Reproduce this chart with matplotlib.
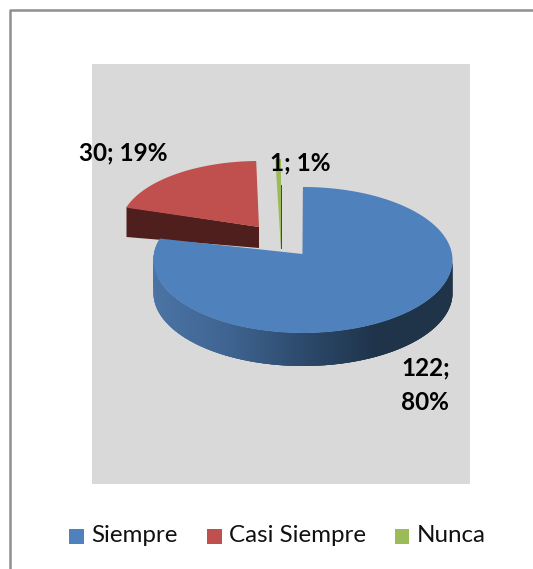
import numpy as np
import matplotlib
matplotlib.use("Agg")
import matplotlib.pyplot as plt
from matplotlib.colors import LinearSegmentedColormap

categories = ["Siempre", "Casi Siempre", "Nunca"]
values = [122, 30, 1]
percents = [80, 19, 1]


def arc(cx, cy, rx, ry, start, end, n=120):
    # angles in degrees, clockwise from 12 o'clock
    t = np.radians(np.linspace(start, end, n))
    return cx + rx * np.sin(t), cy - ry * np.cos(t)


def face(ax, apex, cx, cy, rx, ry, start, end, color, z):
    xs, ys = arc(cx, cy, rx, ry, start, end)
    ax.fill(np.r_[apex[0], xs], np.r_[apex[1], ys], color=color, lw=0, zorder=z)


def main():
    plt.rcParams["font.family"] = ["Lato", "DejaVu Sans"]
    fig = plt.figure(figsize=(5.33, 5.69), dpi=100)
    ax = fig.add_axes([0, 0, 1, 1])
    ax.set_xlim(0, 533)
    ax.set_ylim(569, 0)
    ax.axis("off")

    # chart frame (only top and left are in the crop) and grey plot area
    ax.plot([9.5, 9.5, 533], [569, 9.5, 9.5], color="#8f8f8f", lw=1.8, zorder=1)
    ax.fill([92, 470, 470, 92], [64, 64, 484, 484], color="#d9d9d9", lw=0, zorder=1)

    angles = np.cumsum([0] + values) / sum(values) * 360

    # red slice, pulled out
    ax.fill([259, 259, 126.5, 126.5], [227, 248, 237, 207], color="#4f1f1e", lw=0, zorder=2)
    face(ax, (259, 227), 259, 227, 139, 66, angles[1], angles[2] + 1.2, "#c0504d", 3)

    # green slice, very thin
    ax.fill([280, 281.5, 281.5, 280.5], [185, 185, 249, 249], color="#3f5224", lw=0, zorder=2)
    face(ax, (281, 249), 281, 233, 139, 74, angles[2], angles[3], "#9bbb59", 3)

    # blue slice: side wall with a gradient, then top face
    cx, cy, rx, ry, depth = 303, 260, 149.5, 73, 33
    cmap = LinearSegmentedColormap.from_list("side", ["#1f3349", "#1f3349", "#2c4a6c", "#3f6491", "#4a74a5"])
    edges = np.linspace(90, 285, 200)
    for a, b in zip(edges[:-1], edges[1:]):
        xs, ys = arc(cx, cy, rx, ry, a, b + 2, 6)
        pos = (1 - np.sin(np.radians((a + b) / 2))) / 2
        ax.fill(np.r_[xs, xs[::-1]], np.r_[ys, ys[::-1] + depth], color=cmap(pos), lw=0, zorder=4)
    ax.plot([302.5, 302.5], [190, 254], color="#1f3349", lw=0.8, zorder=4)
    face(ax, (302.5, 254), cx, cy, rx, ry, 0, angles[1], "#4f81bd", 5)

    # data labels
    label = dict(fontsize=17.5, fontweight="bold", color="black", va="center", zorder=6)
    ax.text(401, 368, f"{values[0]};", ha="left", **label)
    ax.text(401, 402, f"{percents[0]}%", ha="left", **label)
    ax.text(79, 153, f"{values[1]}; {percents[1]}%", ha="left", **label)
    ax.text(270, 163, f"{values[2]}; {percents[2]}%", ha="left", **label)

    # legend
    colors = ["#4f81bd", "#c0504d", "#9bbb59"]
    box_x = [69, 207, 394.5]
    text_x = [91, 229, 417]
    for name, color, bx, tx in zip(categories, colors, box_x, text_x):
        ax.fill([bx, bx + 14.5, bx + 14.5, bx], [529, 529, 544, 544], color=color, lw=0, zorder=2)
        ax.text(tx, 535.5, name, fontsize=17.4, color="#111111", ha="left", va="center")

    fig.savefig("out.png", dpi=100)


if __name__ == "__main__":
    main()
